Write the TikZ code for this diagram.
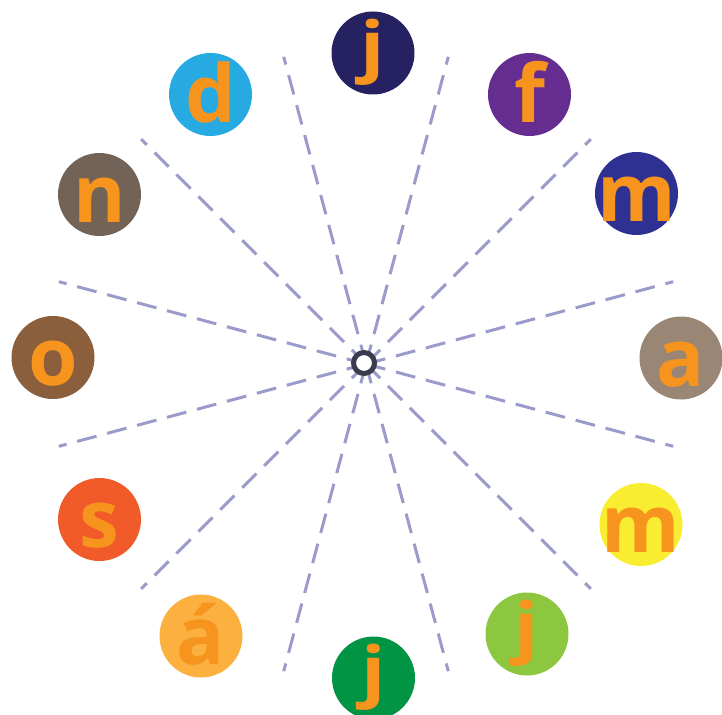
\documentclass[tikz,border=0pt]{standalone}
\usepackage{fontspec}
\usepackage{graphicx}
\usetikzlibrary{calc}
\newfontfamily\letterfont{Open Sans}
\definecolor{cJtop}{HTML}{262262}
\definecolor{cF}{HTML}{662D91}
\definecolor{cMblue}{HTML}{2E3192}
\definecolor{cA}{HTML}{998675}
\definecolor{cMyel}{HTML}{F9ED32}
\definecolor{cJlg}{HTML}{8DC63F}
\definecolor{cJbot}{HTML}{009444}
\definecolor{cAacute}{HTML}{FBB040}
\definecolor{cS}{HTML}{F15A29}
\definecolor{cO}{HTML}{8B5E3C}
\definecolor{cN}{HTML}{736357}
\definecolor{cD}{HTML}{27AAE1}
\definecolor{letterorange}{HTML}{F7941D}
\definecolor{spoke}{HTML}{9B9BCB}
\definecolor{ring}{HTML}{3B3B4F}
\tikzset{
  disc/.style={circle, minimum size=83pt, inner sep=0pt, draw=none},
  letter/.style={anchor=base, inner sep=0pt, text=letterorange,
    font=\letterfont\bfseries\fontsize{80}{80}\selectfont},
  jletter/.style={letter, anchor=center},
  spokeline/.style={draw=spoke, line width=3pt, dash pattern=on 20pt off 11pt},
  hub/.style={circle, minimum size=21pt, inner sep=0pt, draw=ring, line width=5pt, fill=white}
}
\newcommand{\shortj}{\scalebox{1}[0.83]{j}}
\begin{document}
\begin{tikzpicture}[x=1pt,y=-1pt]
\useasboundingbox (0,0) rectangle (722,714);
\coordinate (ctr) at (366,364);
\foreach \a [count=\i] in {15,45,...,345} {
  \coordinate (e\i) at ($(ctr)+(\a:318)$);
  \path[spokeline] (ctr) -- (e\i);
}
\node[hub] (hubc) at (364,363) {};
\foreach \nm/\x/\y/\col/\txt in {
  f/529.5/94.5/cF/f,
  mblue/636.5/193.5/cMblue/m,
  a/681/358/cA/a,
  myel/641/524.5/cMyel/m,
  aac/201/636/cAacute/á,
  s/99.5/519.5/cS/s,
  o/53/357.5/cO/o,
  n/99.5/194.5/cN/n,
  d/210.5/94.5/cD/d} {
  \node[disc, fill=\col] (\nm) at (\x,\y) {};
  \path (\nm.center) ++(0,28) node[letter] (t\nm) {\txt};
}
\foreach \nm/\x/\y/\col in {
  jtop/373/53/cJtop,
  jlg/527/634/cJlg,
  jbot/373.5/678/cJbot} {
  \node[disc, fill=\col] (\nm) at (\x,\y) {};
  \path (\nm.center) ++(0,-1) node[jletter] (t\nm) {\shortj};
}
\end{tikzpicture}
\end{document}
